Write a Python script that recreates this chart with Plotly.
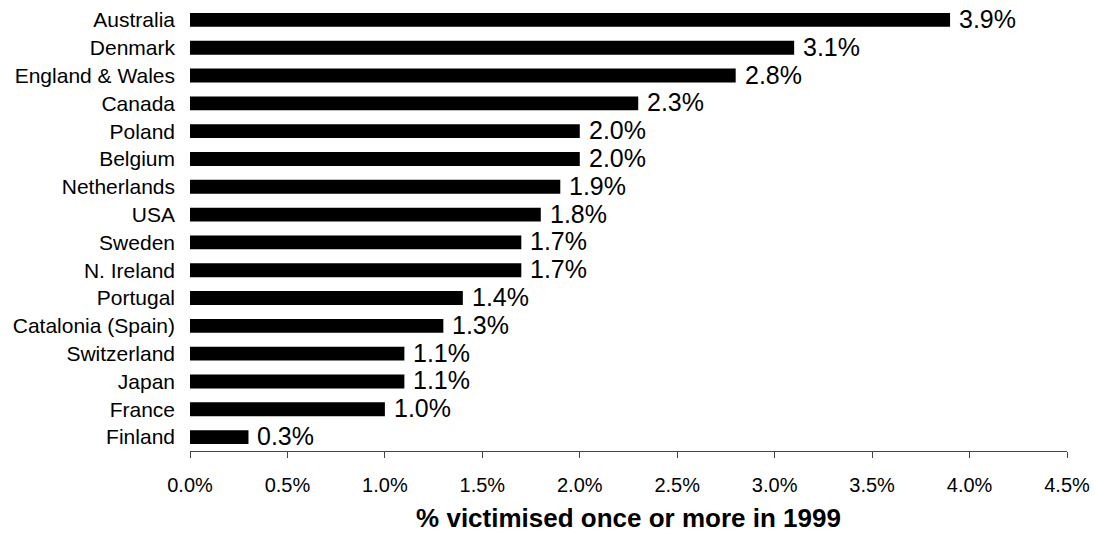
import plotly.graph_objects as go

countries = ["Australia", "Denmark", "England & Wales", "Canada", "Poland", "Belgium",
             "Netherlands", "USA", "Sweden", "N. Ireland", "Portugal", "Catalonia (Spain)",
             "Switzerland", "Japan", "France", "Finland"]
values = [3.9, 3.1, 2.8, 2.3, 2.0, 2.0, 1.9, 1.8, 1.7, 1.7, 1.4, 1.3, 1.1, 1.1, 1.0, 0.3]
tick_vals = [0, 0.5, 1.0, 1.5, 2.0, 2.5, 3.0, 3.5, 4.0, 4.5]
tick_text = ["0.0%", "0.5%", "1.0%", "1.5%", "2.0%", "2.5%", "3.0%", "3.5%", "4.0%", "4.5%"]
x_title = "% victimised once or more in 1999"

# bottom-first order for plotting
cats = countries[::-1]
vals = values[::-1]

fig = go.Figure()
fig.add_trace(go.Bar(
    x=vals, y=cats, orientation="h",
    marker=dict(color="black", line=dict(width=0)),
    hoverinfo="skip",
))

for c, v in zip(cats, vals):
    fig.add_annotation(x=v, y=c, text=f"{v:.1f}%", showarrow=False,
                       xanchor="left", yanchor="middle", xshift=7, yshift=1,
                       font=dict(size=25, color="black", family="Liberation Sans, Arial"))

fig.update_layout(
    width=1094, height=533,
    margin=dict(l=190, r=27, t=6, b=82),
    paper_bgcolor="white", plot_bgcolor="white",
    bargap=0.5,
    showlegend=False,
    font=dict(family="Liberation Sans, Arial", color="black"),
)
fig.update_xaxes(
    range=[0, 4.5], tickvals=tick_vals, ticktext=tick_text,
    showgrid=False, zeroline=False, showline=True, linecolor="#444", linewidth=1,
    ticks="outside", ticklen=6, tickcolor="#444", tickfont=dict(size=20),
    ticklabelstandoff=10,
    title=dict(text=f"<b>{x_title}</b>", font=dict(size=26), standoff=22),
    automargin=False,
)
fig.update_yaxes(
    categoryorder="array", categoryarray=cats, range=[-0.5, 15.5],
    showgrid=False, zeroline=False, showline=False, ticks="",
    tickfont=dict(size=21), ticklabelstandoff=14, automargin=False,
)

fig.write_html("out.html", config={"displayModeBar": False},
               post_script="document.body.style.margin='0';")
